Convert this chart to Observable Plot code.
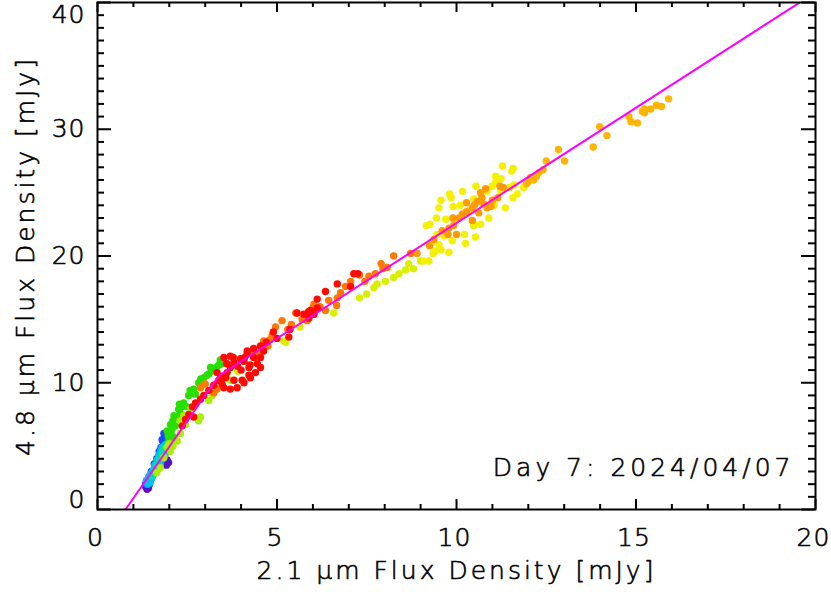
<!DOCTYPE html>
<html>
<head>
<meta charset="utf-8">
<script src="https://cdn.jsdelivr.net/npm/d3@7"></script>
<script src="https://cdn.jsdelivr.net/npm/@observablehq/plot@0.6"></script>
<style>
  html, body { margin: 0; padding: 0; background: #fff; }
  svg { display: block; }
</style>
</head>
<body>
<div id="chart"></div>
<script>
// ---- data (x = 2.1 um flux density [mJy], y = 4.8 um flux density [mJy]) ----
const purple = [[1.34,1.8],[1.38,1.9],[1.42,1.7],[1.36,2.1],[1.94,3.9],[1.98,3.7],[1.92,3.5],[1.45,2.0],[1.38,1.6]];
const blue = [[1.34,2.0],[1.40,2.3],[1.48,2.4],[1.52,2.8],[1.57,2.9],[1.62,3.2],[1.66,3.3],[1.70,3.7],[1.75,3.9],[1.78,4.2],[1.85,4.6],[1.82,5.0],[1.89,5.4],[1.87,5.7],[1.85,6.0],[1.80,5.5],[1.72,4.6],[1.65,4.0],[1.58,3.6],[1.50,3.0],[1.44,2.6],[1.46,2.2],[1.54,2.7],[1.60,3.1],[1.68,3.6],[1.74,4.1],[1.79,4.4],[1.83,5.3],[1.77,4.9],[1.71,4.2]];
const cyan = [[1.36,2.3],[1.42,2.5],[1.48,2.8],[1.55,3.1],[1.60,3.5],[1.66,3.9],[1.71,4.3],[1.76,4.6],[1.80,4.9],[1.85,4.4],[1.89,4.4],[1.82,4.0],[1.75,3.6],[1.68,3.2],[1.60,2.9],[1.52,2.5],[1.46,2.1],[1.40,2.0],[1.88,5.1],[1.92,4.7],[1.44,2.3],[1.56,2.8],[1.63,3.3],[1.70,3.9],[1.78,4.1],[1.86,4.8],[1.92,5.0]];
const teal = [[1.50,2.6],[1.58,3.0],[1.65,3.5],[1.72,3.9],[1.80,4.3],[1.88,4.9],[1.94,5.2],[1.70,3.5],[1.62,3.1],[1.84,4.7]];
const green = [[1.94,6.2],[2.03,6.7],[2.13,7.4],[2.22,7.3],[2.26,7.9],[2.35,8.1],[2.40,8.4],[2.50,8.1],[2.54,9.0],[2.62,9.2],[2.68,9.5],[2.73,9.1],[2.82,10.0],[2.91,9.9],[2.96,10.4],[3.05,10.6],[3.10,10.7],[3.17,10.9],[3.24,11.1],[3.31,11.2],[3.38,11.4],[3.45,11.5],[3.52,11.7],[2.17,6.6],[2.13,5.7],[1.99,5.4],[2.05,6.0],[2.08,6.4],[1.97,5.8],[2.30,7.6],[2.10,7.0],[2.28,8.3],[2.58,9.4],[2.88,10.3],[3.15,11.2],[3.42,11.8]];
const lime = [[2.31,7.0],[2.45,6.7],[2.31,6.0],[2.22,5.4],[2.03,4.6],[1.94,4.9],[2.87,7.3],[2.82,7.0],[3.19,9.0],[3.10,8.6],[3.70,10.2],[1.85,4.1],[1.75,3.3],[2.10,5.0],[2.40,7.4],[2.60,8.0],[1.65,2.9],[2.00,5.2]];
const yellowGreen = [[5.19,13.3],[5.24,13.2],[5.64,14.4],[6.58,15.5],[7.30,16.7],[7.70,17.5],[7.79,17.8],[8.02,18.0],[8.25,18.3],[8.58,18.9],[8.67,19.4],[9.00,19.6],[4.40,12.0],[3.90,10.9],[10.48,22.4],[7.50,17.0],[8.40,18.6],[8.80,19.0]];
const yellow = [[11.28,27.1],[11.54,26.7],[11.58,26.9],[11.09,26.3],[11.24,26.1],[11.09,25.8],[10.54,25.5],[10.17,25.1],[9.81,24.9],[9.85,24.6],[9.57,24.4],[9.51,23.8],[9.44,23.0],[9.16,22.4],[9.26,22.5],[9.09,19.6],[9.23,19.6],[9.35,20.2],[9.57,20.5],[9.79,20.3],[9.88,21.2],[9.91,23.9],[10.11,24.0],[10.25,21.0],[10.22,21.7],[10.53,21.5],[10.48,22.5],[10.67,22.5],[10.90,23.0],[11.36,23.8],[11.57,24.6],[11.69,24.9],[11.48,25.4],[11.60,25.6],[11.87,25.4],[10.85,25.1],[11.23,25.1],[10.99,25.5],[10.48,24.5],[9.46,21.7],[9.65,21.6],[9.51,20.9],[9.30,21.0],[9.95,22.8],[10.35,23.6],[11.05,24.0],[9.70,22.9],[9.40,20.4]];
const gold = [[13.81,28.6],[13.99,30.2],[14.19,29.5],[14.80,31.0],[14.86,30.6],[15.04,30.5],[15.18,31.4],[15.24,31.6],[15.24,31.3],[15.41,31.6],[15.57,31.9],[15.71,31.8],[15.91,32.4],[12.84,28.4],[13.01,27.5],[12.50,27.5],[12.41,26.8],[12.01,25.9],[12.15,26.0],[12.23,26.3],[12.06,26.2],[12.30,26.6],[11.95,25.7]];
const orange = [[9.92,22.4],[9.79,22.2],[9.76,21.7],[10.00,21.7],[9.37,21.3],[9.90,23.0],[10.07,23.0],[10.16,23.3],[10.28,23.5],[10.28,24.2],[10.44,23.8],[10.44,22.8],[10.62,23.4],[10.58,24.3],[10.71,24.6],[10.67,25.0],[10.81,25.3],[10.76,24.1],[10.85,23.8],[10.96,23.9],[11.15,24.6],[11.21,25.5],[11.30,25.4],[9.60,22.0],[10.50,24.0],[11.00,24.4],[9.25,20.8],[8.90,20.2]];
const darkOrange = [[8.25,20.0],[8.72,20.2],[8.07,19.1],[7.95,19.0],[7.74,18.6],[7.56,18.4],[7.30,18.5],[7.05,18.0],[6.91,17.6],[6.77,17.1],[6.68,16.7],[6.44,16.5],[6.35,15.7],[6.66,16.1],[6.03,16.2],[5.98,15.4],[5.84,14.9],[5.52,15.5],[5.14,14.9],[4.96,14.4],[4.87,13.7],[4.63,13.3],[4.35,12.5],[4.87,13.8],[4.49,12.3],[4.63,12.7],[4.75,12.9],[3.33,9.5],[3.24,9.2],[2.87,9.6],[3.00,9.9],[5.30,14.2],[5.70,15.0],[6.20,16.0],[7.45,18.0],[7.90,19.4],[6.00,15.9],[5.40,14.6],[4.80,13.4]];
const red = [[7.14,18.6],[7.25,18.6],[7.05,17.6],[6.68,17.8],[6.35,17.2],[6.12,16.6],[6.12,15.9],[5.93,15.7],[5.88,15.6],[6.03,15.4],[5.89,15.1],[5.75,15.4],[5.56,15.5],[5.36,14.2],[5.33,13.6],[4.17,12.5],[4.35,12.0],[4.08,11.7],[4.54,12.0],[4.45,11.5],[4.25,11.4],[4.63,12.5],[2.36,6.6],[2.45,7.1],[2.54,7.5],[2.64,8.1],[2.73,8.4],[2.87,8.7],[2.96,9.0],[3.10,9.4],[3.24,9.8],[3.38,10.2],[3.57,10.4],[3.61,10.8],[3.70,11.2],[3.80,11.6],[3.98,11.9],[4.17,12.3],[4.35,12.7],[4.54,12.9],[3.70,12.1],[3.78,12.0],[3.52,12.0],[3.47,9.9],[3.52,9.6],[3.70,9.5],[3.89,9.6],[4.08,10.0],[4.26,10.4],[4.40,10.8],[4.54,11.2],[4.22,11.2],[4.00,11.0],[3.80,10.2],[3.33,10.8],[4.03,10.2],[4.22,10.6],[3.90,11.3],[3.60,11.5],[4.10,12.0],[4.70,13.2],[5.00,13.5],[4.90,14.0],[3.45,10.5],[2.68,7.3]];
const fitLine = [[0.78,0],[3.38,10.55],[20,40.8]];

const xMajor = [0, 5, 10, 15, 20];
const xMinor = d3.range(0, 21).filter(v => v % 5 !== 0);
const yMajor = [0, 10, 20, 30, 40];
const yMinor = d3.range(0, 41).filter(v => v % 10 !== 0);
const xTitle = "2.1 μm Flux Density [mJy]";
const yTitle = "4.8 μm Flux Density [mJy]";
const note = "Day 7: 2024/04/07";

// ---- chart ----
const W = 831, H = 597;
const mL = 97, mR = 16, mT = 2, mB = 88;
const pw = W - mL - mR, ph = H - mT - mB;
const font = "DejaVu Sans";
const fs = 25;

const groups = [
  [purple, "#5a10c8"], [blue, "#1848ff"], [cyan, "#00c0f0"], [teal, "#00e0a8"],
  [green, "#28e000"], [lime, "#a8f000"], [yellowGreen, "#d8f000"], [yellow, "#f4f000"],
  [gold, "#ffb400"], [orange, "#ff9a00"], [darkOrange, "#ff7800"], [red, "#ff0a00"]
];

const tickStyle = {stroke: "black", strokeWidth: 2};
const txt = {fontSize: fs, fill: "black", fontWeight: 200, stroke: "black", strokeWidth: 0.6};
const chart = Plot.plot({
  width: W, height: H,
  marginLeft: mL, marginRight: mR, marginTop: mT, marginBottom: mB,
  style: {fontFamily: font, fontSize: fs + "px", background: "white"},
  x: {domain: [0, 20], axis: null},
  y: {domain: [0, 40], axis: null},
  marks: [
    ...groups.map(([data, color]) => Plot.dot(data, {x: d => d[0], y: d => d[1], r: 3.7, fill: color, stroke: null})),
    Plot.line(fitLine, {x: d => d[0], y: d => d[1], stroke: "#ff00ff", strokeWidth: 2, clip: true}),
    // inward ticks, all four sides
    Plot.tickX(xMajor, {x: d => d, insetTop: ph - 10, ...tickStyle}),
    Plot.tickX(xMinor, {x: d => d, insetTop: ph - 5, ...tickStyle}),
    Plot.tickX(xMajor, {x: d => d, insetBottom: ph - 10, ...tickStyle}),
    Plot.tickX(xMinor, {x: d => d, insetBottom: ph - 5, ...tickStyle}),
    Plot.tickY(yMajor, {y: d => d, insetRight: pw - 14, ...tickStyle}),
    Plot.tickY(yMinor, {y: d => d, insetRight: pw - 7, ...tickStyle}),
    Plot.tickY(yMajor, {y: d => d, insetLeft: pw - 14, ...tickStyle}),
    Plot.tickY(yMinor, {y: d => d, insetLeft: pw - 7, ...tickStyle}),
    Plot.frame({stroke: "black", strokeWidth: 2}),
    // tick labels
    Plot.text(xMajor, {x: d => d, frameAnchor: "bottom", dx: -2, dy: 36, textAnchor: "middle", text: d => String(d), ...txt, className: "tl"}),
    Plot.text(yMajor.filter(v => v > 0 && v < 40), {y: d => d, frameAnchor: "left", dx: -12, textAnchor: "end", text: d => String(d), ...txt, className: "tl"}),
    Plot.text([yMajor[0]], {y: d => d, frameAnchor: "left", dx: -12, dy: -10, textAnchor: "end", text: d => String(d), ...txt, className: "tl"}),
    Plot.text([yMajor[4]], {y: d => d, frameAnchor: "left", dx: -12, dy: 12, textAnchor: "end", text: d => String(d), ...txt, className: "tl"}),
    // titles
    Plot.text([xTitle], {frameAnchor: "bottom", dy: 69, textAnchor: "middle", text: d => d, ...txt, className: "ttl"}),
    Plot.text([yTitle], {frameAnchor: "left", dx: -72, rotate: -90, textAnchor: "middle", text: d => d, ...txt, className: "ttl"}),
    Plot.text([note], {frameAnchor: "bottom-right", dx: -21, dy: -34, textAnchor: "end", text: d => d, ...txt, className: "nt"})
  ]
});
const style = document.createElement("style");
style.textContent = ".ttl text { letter-spacing: 3px; } .nt text { letter-spacing: 4px; } .tl text { letter-spacing: 1px; }";
document.head.appendChild(style);
document.getElementById("chart").appendChild(chart);
</script>
</body>
</html>
